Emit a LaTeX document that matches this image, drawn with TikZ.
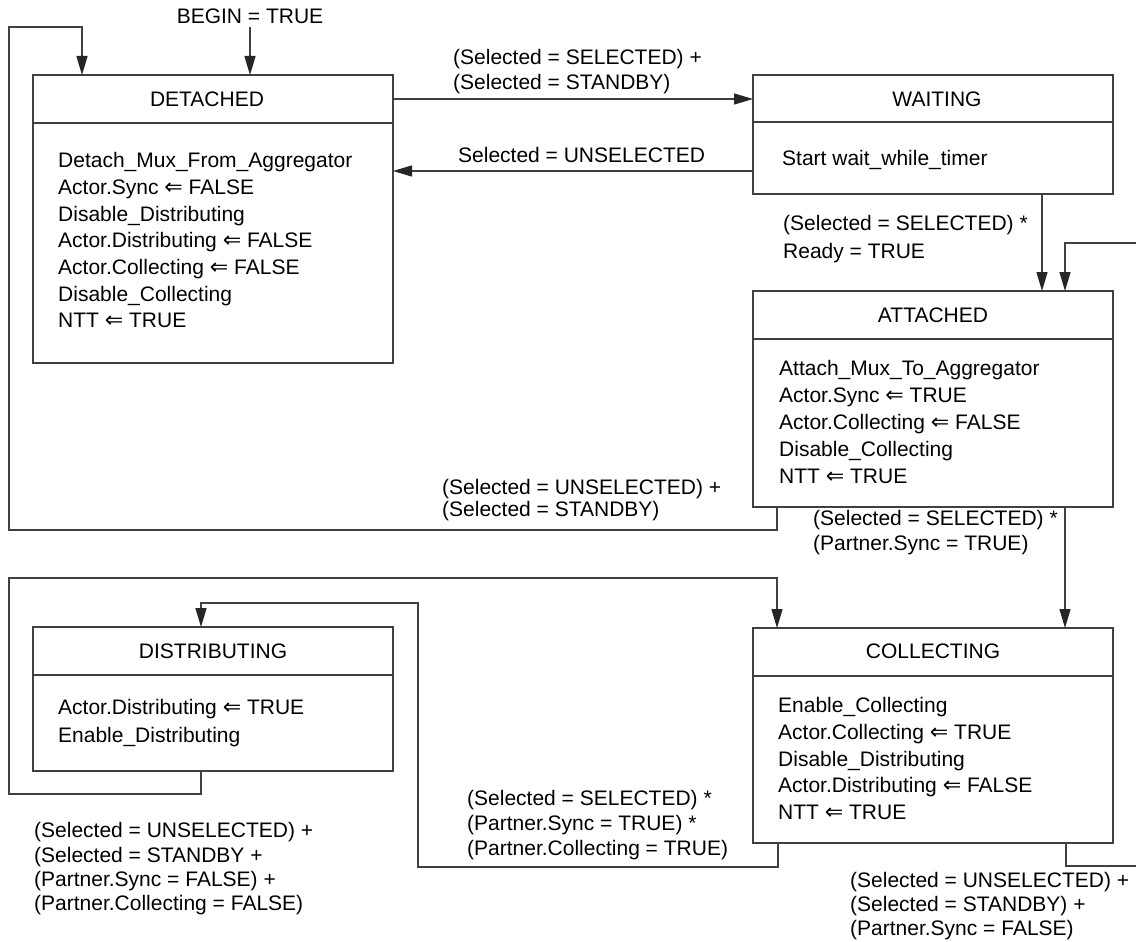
\documentclass[tikz,border=0pt]{standalone}
\usepackage{fontspec}
\setmainfont{Liberation Sans}
\newfontfamily\symfont{DejaVu Sans}
\usetikzlibrary{arrows.meta,calc}
\newcommand\getsarrow{{\symfont\fontsize{22}{22}\selectfont ⇐}}
\definecolor{linecol}{HTML}{404040}
\begin{document}
\begin{tikzpicture}[x=1pt,y=-1pt,
  every node/.style={font=\fontsize{21}{26.7}\selectfont, text=black},
  statebox/.style={draw=linecol, line width=1.4pt, minimum width=360pt, anchor=north west, inner sep=0, outer sep=0},
  sep/.style={draw=linecol, line width=1.4pt},
  title/.style={inner sep=0},
  body/.style={anchor=north west, align=left, inner sep=0},
  lbl/.style={anchor=north west, align=left, inner sep=0},
  arr/.style={draw=linecol, line width=1.3pt, -{Triangle[length=19pt,width=11pt,color=black!85]}},
  conn/.style={draw=linecol, line width=1.3pt}
]
\clip (0,0) rectangle (1136,942);
\fill[white] (0,0) rectangle (1136,942);

% state boxes
\node[statebox, minimum height=288pt] (det) at (33,75) {};
\node[statebox, minimum height=119pt] (wait) at (753,75) {};
\node[statebox, minimum height=216pt] (att) at (753,291) {};
\node[statebox, minimum height=144pt] (dist) at (33,627) {};
\node[statebox, minimum height=215pt] (coll) at (753,628) {};

% header separators
\draw[sep] ($(det.north west)+(0,48)$) -- ($(det.north east)+(0,48)$);
\draw[sep] ($(wait.north west)+(0,47)$) -- ($(wait.north east)+(0,47)$);
\draw[sep] ($(att.north west)+(0,48)$) -- ($(att.north east)+(0,48)$);
\draw[sep] ($(dist.north west)+(0,48)$) -- ($(dist.north east)+(0,48)$);
\draw[sep] ($(coll.north west)+(0,48)$) -- ($(coll.north east)+(0,48)$);

% titles
\node[title] (det-t) at ($(det.north)+(-6,24)$) {DETACHED};
\node[title] (wait-t) at ($(wait.north)+(4,24)$) {WAITING};
\node[title] (att-t) at ($(att.north)+(0,24)$) {ATTACHED};
\node[title] (dist-t) at ($(dist.north)+(0,24)$) {DISTRIBUTING};
\node[title] (coll-t) at ($(coll.north)+(0,23)$) {COLLECTING};

% bodies
\node[body] (det-b) at ($(det.north west)+(25,77.3)$) {Detach\_Mux\_From\_Aggregator\\
Actor.Sync \getsarrow{} FALSE\\
Disable\_Distributing\\
Actor.Distributing \getsarrow{} FALSE\\
Actor.Collecting \getsarrow{} FALSE\\
Disable\_Collecting\\
NTT \getsarrow{} TRUE};
\node[body] (wait-b) at ($(wait.north west)+(29,75.3)$) {Start wait\_while\_timer};
\node[body, font=\fontsize{21}{27}\selectfont] (att-b) at ($(att.north west)+(26,69.3)$) {Attach\_Mux\_To\_Aggregator\\
Actor.Sync \getsarrow{} TRUE\\
Actor.Collecting \getsarrow{} FALSE\\
Disable\_Collecting\\
NTT \getsarrow{} TRUE};
\node[body, font=\fontsize{21}{28}\selectfont] (dist-b) at ($(dist.north west)+(25,72.3)$) {Actor.Distributing \getsarrow{} TRUE\\
Enable\_Distributing};
\node[body] (coll-b) at ($(coll.north west)+(25,69.3)$) {Enable\_Collecting\\
Actor.Collecting \getsarrow{} TRUE\\
Disable\_Distributing\\
Actor.Distributing \getsarrow{} FALSE\\
NTT \getsarrow{} TRUE};

% initial transition
\node[inner sep=0, outer sep=3.5pt] (begin) at (250,16) {BEGIN = TRUE};
\draw[arr] (begin.south) -- (begin.south |- det.north);

% DETACHED -> WAITING
\draw[arr] ($(det.north east)+(0,24)$) -- ($(wait.north west)+(0,24)$);
\node[lbl, font=\fontsize{21}{25}\selectfont] (l-dw) at (453,49.3) {(Selected = SELECTED) +\\(Selected = STANDBY)};

% WAITING -> DETACHED
\draw[arr] ($(wait.north west)+(0,96)$) -- ($(det.north east)+(0,96)$);
\node[lbl] (l-wd) at (458,147.3) {Selected = UNSELECTED};

% WAITING -> ATTACHED
\draw[arr] ($(wait.south)+(109,0)$) -- ($(att.north)+(109,0)$);
\node[lbl, font=\fontsize{21}{28}\selectfont] (l-wa) at (783,215.3) {(Selected = SELECTED) *\\Ready = TRUE};

% ATTACHED -> DETACHED
\draw[arr] ($(att.south west)+(24,0)$) |- (9,530) -- (9,27) -| ($(det.north west)+(49,0)$);
\node[lbl, font=\fontsize{21}{22}\selectfont] (l-ad) at (442,479.3) {(Selected = UNSELECTED) +\\(Selected = STANDBY)};

% ATTACHED -> COLLECTING
\draw[arr] ($(att.south west)+(312,0)$) -- ($(coll.north west)+(312,0)$);
\node[lbl, font=\fontsize{21}{25}\selectfont] (l-ac) at (813,510.3) {(Selected = SELECTED) *\\(Partner.Sync = TRUE)};

% COLLECTING -> ATTACHED
\draw[arr] ($(coll.south west)+(313,0)$) |- (1140,866) |- (1065,243) -- ($(att.north west)+(312,0)$);
\node[lbl, font=\fontsize{21}{24}\selectfont] (l-ca) at (850,872.3) {(Selected = UNSELECTED) +\\(Selected = STANDBY) +\\(Partner.Sync = FALSE)};

% COLLECTING -> DISTRIBUTING
\draw[arr] ($(coll.south west)+(25,0)$) |- (418,867) |- (201,603) -- ($(dist.north)+(-12,0)$);
\node[lbl, font=\fontsize{21}{25}\selectfont] (l-cd) at (467,790.3) {(Selected = SELECTED) *\\(Partner.Sync = TRUE) *\\(Partner.Collecting = TRUE)};

% DISTRIBUTING -> COLLECTING
\draw[arr] ($(dist.south)+(-12,0)$) |- (9,794) |- (777,578) -- ($(coll.north west)+(24,0)$);
\node[lbl, font=\fontsize{21}{24.3}\selectfont] (l-dc) at (34,822.3) {(Selected = UNSELECTED) +\\(Selected = STANDBY +\\(Partner.Sync = FALSE) +\\(Partner.Collecting = FALSE)};
\end{tikzpicture}
\end{document}
